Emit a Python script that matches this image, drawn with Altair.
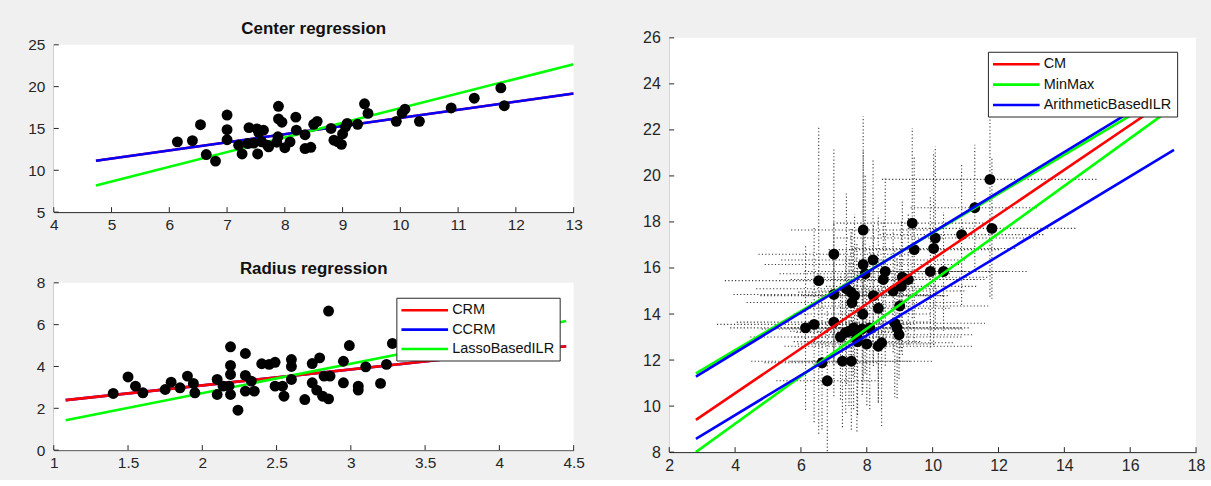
import altair as alt
import pandas as pd

FONT = "Liberation Sans"
AX = "#262626"

# ---- data ----
center_x = [6.14, 6.40, 6.54, 6.64, 6.80, 7.00, 7.00, 7.00, 7.20, 7.26,
            7.36, 7.38, 7.52, 7.55, 7.46, 7.53, 7.63, 7.60, 7.72, 7.86,
            7.89, 7.89, 7.95, 7.88, 8.00, 8.09, 8.19, 8.20, 8.35, 8.35,
            8.45, 8.50, 8.56, 8.80, 8.85, 8.92, 8.98, 9.00, 9.05, 9.08,
            9.26, 9.38, 9.44, 9.93, 10.03, 10.08, 10.33, 10.88, 11.28, 11.74,
            11.80, 7.70]
center_y = [13.40, 13.55, 15.45, 11.88, 11.10, 16.60, 14.85, 13.65, 13.00, 11.95,
            13.20, 15.10, 14.95, 14.50, 13.25, 11.95, 14.80, 13.40, 12.80, 13.35,
            17.65, 16.15, 15.75, 14.00, 12.70, 13.40, 16.35, 14.80, 14.25, 12.60,
            12.75, 15.50, 15.85, 15.00, 13.60, 13.40, 13.10, 14.35, 15.20, 15.60,
            15.50, 17.95, 16.80, 15.85, 16.85, 17.30, 15.85, 17.45, 18.62, 19.85,
            17.72, 13.00]
radius_x = [2.29, 2.95, 2.85, 1.75, 1.55, 2.29, 3.05, 2.95, 1.40, 2.77,
            1.50, 2.74, 1.60, 3.20, 1.79, 1.85, 2.86, 1.90, 1.94, 3.05,
            2.19, 2.99, 2.60, 2.10, 2.10, 2.82, 2.79, 2.14, 2.19, 2.85,
            2.19, 2.81, 2.45, 2.19, 2.74, 2.18, 2.24, 2.69, 2.29, 2.60,
            2.35, 2.40, 2.60, 2.33, 2.49, 3.10, 2.55, 2.49, 1.95, 3.28,
            2.54, 3.24]
radius_y = [3.57, 4.25, 6.65, 2.90, 3.06, 4.62, 3.06, 3.22, 2.71, 2.87,
            3.50, 4.14, 2.74, 3.19, 3.25, 2.98, 3.54, 3.54, 3.19, 2.87,
            4.94, 5.00, 4.33, 3.38, 2.66, 3.54, 4.41, 3.06, 4.05, 2.45,
            3.62, 2.58, 4.10, 2.66, 3.22, 3.06, 1.91, 2.42, 2.82, 3.38,
            2.82, 4.13, 4.00, 3.30, 4.20, 3.98, 2.58, 3.06, 2.74, 5.10,
            3.06, 4.10]

# center regression lines (end points)
cline_x = [4.73, 13.0]
cline_crm = [11.14, 19.18]
cline_ccrm = [11.14, 19.18]
cline_lasso = [8.19, 22.69]

# radius regression lines
rline_x = [1.08, 4.45]
rline_crm = [2.39, 4.97]
rline_ccrm = [2.39, 4.97]
rline_lasso = [1.43, 6.17]

# interval regression lines (right panel)
fit_x_low = [2.81, 17.33]
fit_x_up = [2.81, 17.0]
cm_y = [9.40, 23.18]
minmax_low = [8.00, 23.01]
minmax_up = [11.42, 23.47]
arith_low = [8.58, 21.13]
arith_up = [11.28, 23.65]

left_models = ["CRM", "CCRM", "LassoBasedILR"]
right_models = ["CM", "MinMax", "ArithmeticBasedILR"]
model_colors = ["#ff0000", "#0000ff", "#00ff00"]
right_colors = ["#ff0000", "#00ff00", "#0000ff"]

# axis limits and ticks
tl_xdom, tl_ydom = [4, 13], [5, 25]
bl_xdom, bl_ydom = [1, 4.5], [0, 8]
r_xdom, r_ydom = [2, 18], [8, 26]
tl_xticks = [4, 5, 6, 7, 8, 9, 10, 11, 12, 13]
tl_yticks = [5, 10, 15, 20, 25]
bl_xticks = [1, 1.5, 2, 2.5, 3, 3.5, 4, 4.5]
bl_yticks = [0, 2, 4, 6, 8]
r_xticks = [2, 4, 6, 8, 10, 12, 14, 16, 18]
r_yticks = [8, 10, 12, 14, 16, 18, 20, 22, 24, 26]

# ---- tables ----
pts_c = pd.DataFrame({"x": center_x, "y": center_y})
pts_r = pd.DataFrame({"x": radius_x, "y": radius_y})
hseg = pd.DataFrame({"x": [c - r for c, r in zip(center_x, radius_x)],
                     "x2": [c + r for c, r in zip(center_x, radius_x)],
                     "y": center_y})
vseg = pd.DataFrame({"x": center_x,
                     "y": [c - r for c, r in zip(center_y, radius_y)],
                     "y2": [c + r for c, r in zip(center_y, radius_y)]})


def ldf(xs, ys, model, part="a"):
    return pd.DataFrame({"x": xs, "y": ys, "model": model, "part": part})


def axis(vals, size, pad):
    return alt.Axis(values=vals, tickSize=0, labelPadding=pad, domainColor=AX,
                    domainWidth=1, labelColor=AX, grid=False, title=None,
                    labelFontSize=size, labelFont=FONT, labelFlush=False,
                    labelOverlap=False, format="~g")


def panel(W, H, xdom, ydom, xt, yt, lines, points, legend, domain, colors,
          crosses=False, lines_on_top=False, title=None, top_gap=0, fsize=15.5):
    xs = alt.Scale(domain=xdom, nice=False, zero=False)
    if top_gap:
        ys = alt.Scale(domain=ydom, nice=False, zero=False, range=[H, top_gap])
    else:
        ys = alt.Scale(domain=ydom, nice=False, zero=False)
    ax_x = axis(xt, fsize, 5)
    ax_y = axis(yt, fsize, 9)
    cscale = alt.Scale(domain=domain, range=colors)
    bg = alt.Chart(pd.DataFrame({"x": [xdom[0]], "x2": [xdom[1]],
                                 "y": [ydom[0]], "y2": [ydom[1]]})).mark_rect(
        color="white").encode(x=alt.X("x:Q", scale=xs, axis=ax_x), x2="x2:Q",
                              y=alt.Y("y:Q", scale=ys, axis=ax_y), y2="y2:Q")
    layers = [bg]
    if crosses:
        layers.append(alt.Chart(hseg).mark_rule(color="#3a3a3a", strokeWidth=1.1,
                                                 strokeDash=[1.2, 2.2], clip=True).encode(
            x=alt.X("x:Q", scale=xs, axis=ax_x), x2="x2:Q",
            y=alt.Y("y:Q", scale=ys, axis=ax_y)))
        layers.append(alt.Chart(vseg).mark_rule(color="#3a3a3a", strokeWidth=1.1,
                                                 strokeDash=[1.2, 2.2], clip=True).encode(
            x=alt.X("x:Q", scale=xs, axis=ax_x),
            y=alt.Y("y:Q", scale=ys, axis=ax_y), y2="y2:Q"))
    line_layers = []
    for d in lines:
        line_layers.append(alt.Chart(d).mark_line(strokeWidth=2.6, clip=True).encode(
            x=alt.X("x:Q", scale=xs, axis=ax_x),
            y=alt.Y("y:Q", scale=ys, axis=ax_y),
            detail="part:N",
            color=alt.Color("model:N", scale=cscale, legend=legend)))
    pt_layer = alt.Chart(points).mark_circle(size=120, color="black", opacity=1).encode(
        x=alt.X("x:Q", scale=xs, axis=ax_x),
        y=alt.Y("y:Q", scale=ys, axis=ax_y))
    if lines_on_top:
        layers += [pt_layer] + line_layers
    else:
        layers += line_layers + [pt_layer]
    tx = alt.Chart(pd.DataFrame({"v": xt})).mark_rule(color=AX, strokeWidth=1).encode(
        x=alt.X("v:Q", scale=xs, axis=ax_x), y=alt.value(H), y2=alt.value(H - 5))
    ty = alt.Chart(pd.DataFrame({"v": yt})).mark_rule(color=AX, strokeWidth=1).encode(
        y=alt.Y("v:Q", scale=ys, axis=ax_y), x=alt.value(0), x2=alt.value(5))
    layers += [tx, ty]
    ch = alt.layer(*layers).properties(width=W, height=H)
    if title is not None:
        ch = ch.properties(title=title)
    return ch


def legend_params(x, y, size, row_pad):
    return alt.Legend(orient="none", legendX=x, legendY=y, title=None,
                      fillColor="white", strokeColor=AX, padding=5,
                      symbolType="M-3.9,0L3.9,0", symbolSize=144,
                      symbolStrokeWidth=2.6, symbolOffset=16,
                      labelFontSize=size, labelFont=FONT, labelColor="#111",
                      rowPadding=row_pad, labelOffset=20, zindex=1)


tl = panel(522, 175, tl_xdom, tl_ydom, tl_xticks, tl_yticks,
           [ldf(cline_x, cline_crm, "CRM"), ldf(cline_x, cline_ccrm, "CCRM"),
            ldf(cline_x, cline_lasso, "LassoBasedILR")],
           pts_c, None, left_models, model_colors, top_gap=7,
           title=alt.TitleParams("Center regression", font=FONT, fontSize=17,
                                 fontWeight="bold", color="#111", offset=0))

bl = panel(522, 168, bl_xdom, bl_ydom, bl_xticks, bl_yticks,
           [ldf(rline_x, rline_ccrm, "CCRM"), ldf(rline_x, rline_crm, "CRM"),
            ldf(rline_x, rline_lasso, "LassoBasedILR")],
           pts_r, legend_params(344, 15, 14.5, 4.5), left_models, model_colors,
           title=alt.TitleParams("Radius regression", font=FONT, fontSize=17,
                                 fontWeight="bold", color="#111", offset=-2))

rr = panel(529, 416, r_xdom, r_ydom, r_xticks, r_yticks,
           [pd.concat([ldf(fit_x_low, minmax_low, "MinMax", "a"),
                       ldf(fit_x_up, minmax_up, "MinMax", "b")]),
            ldf(fit_x_up, cm_y, "CM"),
            pd.concat([ldf(fit_x_low, arith_low, "ArithmeticBasedILR", "a"),
                       ldf(fit_x_up, arith_up, "ArithmeticBasedILR", "b")])],
           pts_c, legend_params(320, 14, 14.5, 5.5), right_models, right_colors,
           crosses=True, lines_on_top=True, fsize=16)

left = alt.vconcat(tl, bl, spacing=27).resolve_scale(color="independent")
chart = alt.hconcat(left, rr, spacing=58).resolve_scale(color="independent").properties(
    padding={"left": 27, "top": 19, "right": 6, "bottom": 6}
).configure(background="#f0f0f0").configure_view(stroke=None, fill=None)

chart.save("out.html", embed_options={"renderer": "svg", "actions": False})
